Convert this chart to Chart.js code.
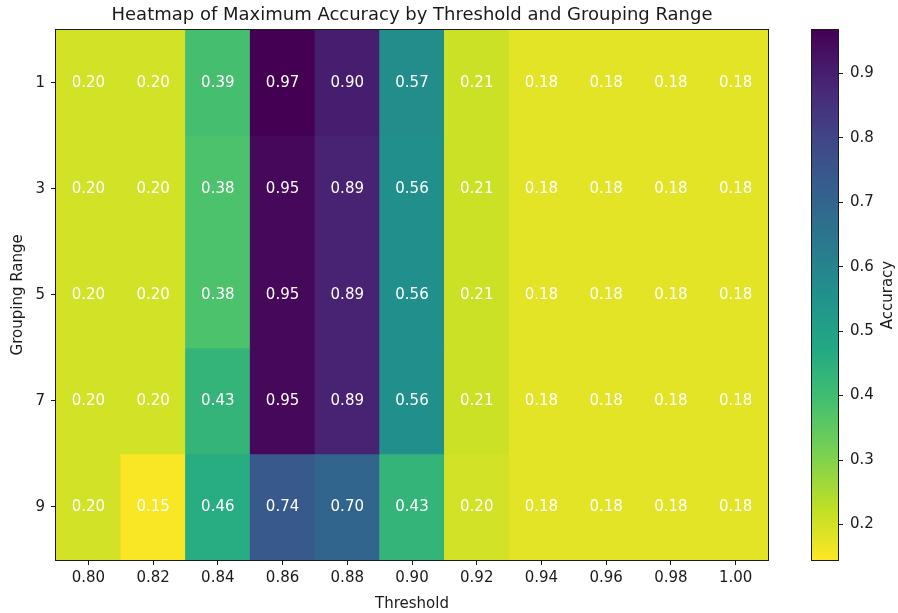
<!DOCTYPE html>
<html>
<head>
<meta charset="utf-8">
<script src="https://cdn.jsdelivr.net/npm/chart.js@4.4.1/dist/chart.umd.min.js"></script>
<style>
  body { margin: 0; background: #fff; }
  #wrap { position: relative; width: 898px; height: 613px; }
  #heat { position: absolute; left: 0; top: 0; }
  #cbar { position: absolute; left: 790px; top: 0; }
</style>
</head>
<body>
<div id="wrap">
  <canvas id="heat" width="790" height="613"></canvas>
  <canvas id="cbar" width="108" height="613"></canvas>
</div>
<script>
const thresholds = ['0.80', '0.82', '0.84', '0.86', '0.88', '0.90', '0.92', '0.94', '0.96', '0.98', '1.00'];
const groupingRanges = [1, 3, 5, 7, 9];
const row1 = [0.20, 0.20, 0.39, 0.97, 0.90, 0.57, 0.21, 0.18, 0.18, 0.18, 0.18];
const row3 = [0.20, 0.20, 0.38, 0.95, 0.89, 0.56, 0.21, 0.18, 0.18, 0.18, 0.18];
const row5 = [0.20, 0.20, 0.38, 0.95, 0.89, 0.56, 0.21, 0.18, 0.18, 0.18, 0.18];
const row7 = [0.20, 0.20, 0.43, 0.95, 0.89, 0.56, 0.21, 0.18, 0.18, 0.18, 0.18];
const row9 = [0.20, 0.15, 0.46, 0.74, 0.70, 0.43, 0.20, 0.18, 0.18, 0.18, 0.18];
const rows = [row1, row3, row5, row7, row9];
const colorbarTicks = [0.2, 0.3, 0.4, 0.5, 0.6, 0.7, 0.8, 0.9];
const vmin = 0.145, vmax = 0.967;

// viridis stops, reversed when used (low = yellow)
const viridis = ['#440154', '#482475', '#414487', '#355f8d', '#2a788e', '#21918c', '#22a884', '#44bf70', '#7ad151', '#bddf26', '#fde725'];

function hexToRgb(h) {
  return [parseInt(h.slice(1, 3), 16), parseInt(h.slice(3, 5), 16), parseInt(h.slice(5, 7), 16)];
}
function viridisAt(t) {
  t = Math.max(0, Math.min(1, t));
  const p = t * (viridis.length - 1);
  const i = Math.min(Math.floor(p), viridis.length - 2);
  const f = p - i;
  const a = hexToRgb(viridis[i]), b = hexToRgb(viridis[i + 1]);
  const c = a.map((v, k) => Math.round(v + (b[k] - v) * f));
  return `rgb(${c[0]},${c[1]},${c[2]})`;
}
function colorFor(v) {
  return viridisAt(1 - (v - vmin) / (vmax - vmin));
}

const FONT = 'DejaVu Sans';
const TXT = '#1a1a1a';
const FS = 15;

const cellLabels = {
  id: 'cellLabels',
  afterDatasetsDraw(chart) {
    const ctx = chart.ctx;
    ctx.save();
    ctx.font = `${FS}px "${FONT}"`;
    ctx.fillStyle = '#ffffff';
    ctx.textAlign = 'center';
    ctx.textBaseline = 'middle';
    chart.data.datasets.forEach((ds, di) => {
      chart.getDatasetMeta(di).data.forEach((bar, i) => {
        ctx.fillText(rows[di][i].toFixed(2), bar.x, (bar.y + bar.base) / 2);
      });
    });
    ctx.restore();
  }
};

const frame = {
  id: 'frame',
  afterDraw(chart) {
    const a = chart.chartArea, ctx = chart.ctx;
    ctx.save();
    ctx.strokeStyle = TXT;
    ctx.lineWidth = 1;
    ctx.strokeRect(Math.round(a.left) - 0.5, Math.round(a.top) - 0.5, Math.round(a.right - a.left) + 1, Math.round(a.bottom - a.top) + 1);
    ctx.restore();
  }
};

new Chart(document.getElementById('heat'), {
  type: 'bar',
  data: {
    labels: thresholds,
    datasets: rows.map((r, ri) => ({
      label: String(groupingRanges[ri]),
      data: r.map(() => [groupingRanges[ri] - 1, groupingRanges[ri] + 1]),
      backgroundColor: r.map(colorFor),
      borderWidth: 0,
      grouped: false,
      categoryPercentage: 1,
      barPercentage: 1
    }))
  },
  options: {
    responsive: false,
    animation: false,
    devicePixelRatio: 1,
    layout: { padding: { left: 0, right: 22, top: 0, bottom: 0 } },
    plugins: {
      legend: { display: false },
      tooltip: { enabled: false },
      title: {
        display: true,
        fullSize: false,
        text: 'Heatmap of Maximum Accuracy by Threshold and Grouping Range',
        color: TXT,
        font: { family: FONT, size: 18, weight: 'normal' },
        padding: { top: 5, bottom: 3 }
      }
    },
    scales: {
      x: {
        type: 'category',
        offset: true,
        grid: { display: true, offset: false, drawOnChartArea: false, tickLength: 5, tickColor: TXT },
        border: { display: false },
        ticks: { color: TXT, font: { family: FONT, size: FS }, padding: 4, maxRotation: 0 },
        title: { display: true, text: 'Threshold', color: TXT, font: { family: FONT, size: FS }, padding: { top: 4, bottom: 0 } },
        afterFit(scale) { scale.height = 53; }
      },
      y: {
        type: 'linear',
        reverse: true,
        min: 0,
        max: 10,
        afterBuildTicks(scale) { scale.ticks = groupingRanges.map(v => ({ value: v })); },
        grid: { display: true, drawOnChartArea: false, tickLength: 5, tickColor: TXT },
        border: { display: false },
        ticks: { color: TXT, font: { family: FONT, size: FS }, padding: 6 },
        title: { display: true, text: 'Grouping Range', color: TXT, font: { family: FONT, size: FS }, padding: { top: 9, bottom: 0 } },
        afterFit(scale) { scale.width = 56; }
      }
    }
  },
  plugins: [cellLabels, frame]
});

const gradientFill = {
  id: 'gradientFill',
  beforeDatasetsDraw(chart) {
    const a = chart.chartArea, ctx = chart.ctx, y = chart.scales.y;
    const g = ctx.createLinearGradient(0, y.getPixelForValue(vmax), 0, y.getPixelForValue(vmin));
    for (let k = 0; k <= 20; k++) {
      const t = k / 20;
      g.addColorStop(t, viridisAt(t));
    }
    ctx.save();
    ctx.fillStyle = g;
    ctx.fillRect(a.left, a.top, a.right - a.left, a.bottom - a.top);
    ctx.strokeStyle = TXT;
    ctx.lineWidth = 1;
    ctx.strokeRect(Math.round(a.left) - 0.5, Math.round(a.top) - 0.5, Math.round(a.right - a.left) + 1, Math.round(a.bottom - a.top) + 1);
    ctx.restore();
  },
  afterDraw(chart) {
    // colorbar label, reading bottom to top like matplotlib
    const a = chart.chartArea, ctx = chart.ctx;
    ctx.save();
    ctx.translate(98.5, (a.top + a.bottom) / 2);
    ctx.rotate(-Math.PI / 2);
    ctx.font = `${FS}px "${FONT}"`;
    ctx.fillStyle = TXT;
    ctx.textAlign = 'center';
    ctx.textBaseline = 'middle';
    ctx.fillText('Accuracy', 0, 0);
    ctx.restore();
  }
};

new Chart(document.getElementById('cbar'), {
  type: 'bar',
  data: { labels: [''], datasets: [{ data: [] }] },
  options: {
    responsive: false,
    animation: false,
    devicePixelRatio: 1,
    layout: { padding: { left: 22, right: 0, top: 30, bottom: 53 } },
    plugins: { legend: { display: false }, tooltip: { enabled: false } },
    scales: {
      x: { display: false },
      y: {
        type: 'linear',
        position: 'right',
        min: vmin,
        max: vmax,
        afterBuildTicks(scale) { scale.ticks = colorbarTicks.map(v => ({ value: v })); },
        grid: { display: true, drawOnChartArea: false, tickLength: 5, tickColor: TXT },
        border: { display: false },
        ticks: { color: TXT, font: { family: FONT, size: FS }, padding: 7, callback: v => v.toFixed(1) },
        afterFit(scale) { scale.width = 60; }
      }
    }
  },
  plugins: [gradientFill]
});
</script>
</body>
</html>
